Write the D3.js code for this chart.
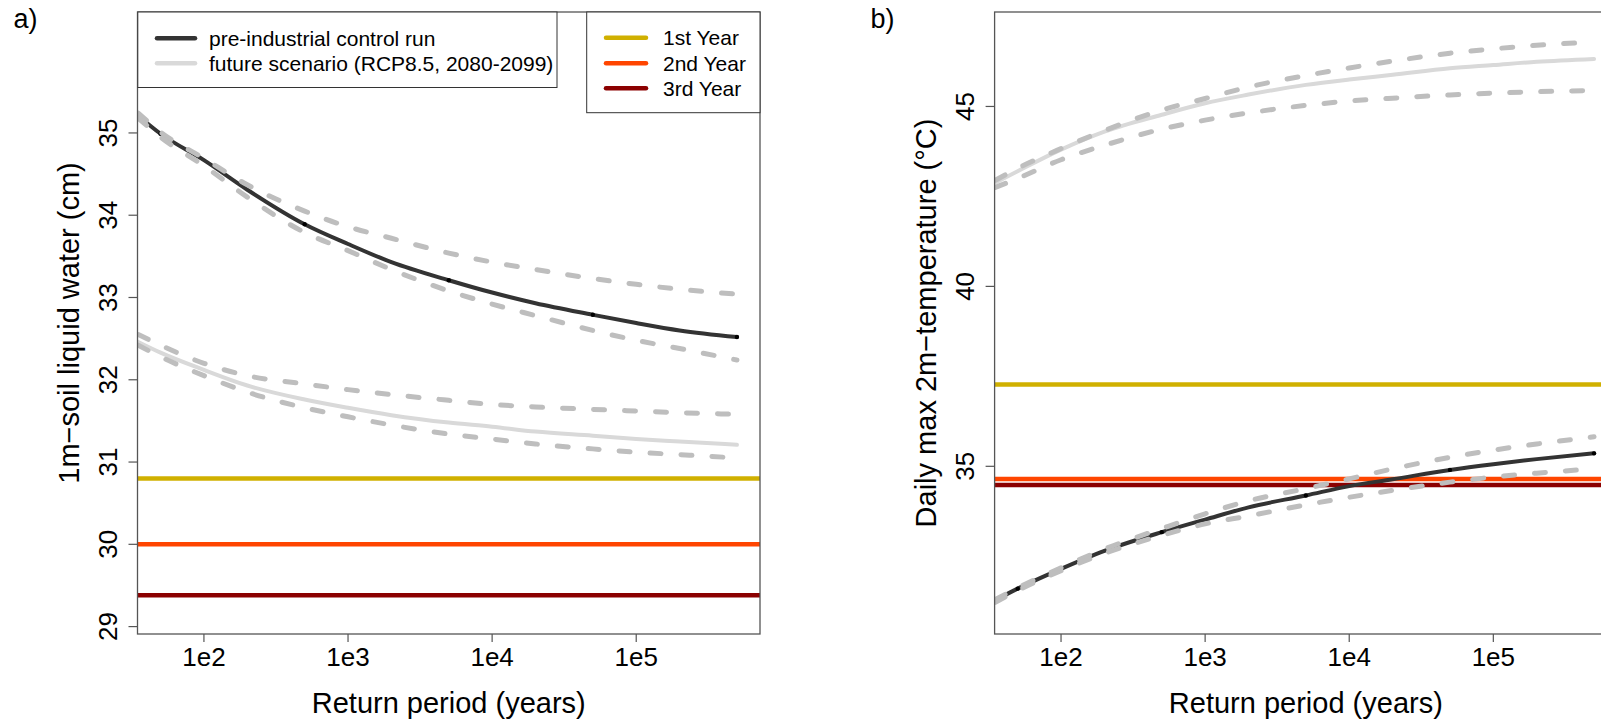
<!DOCTYPE html>
<html>
<head>
<meta charset="utf-8">
<script src="https://cdn.jsdelivr.net/npm/d3@7"></script>
<style>
  body { margin: 0; background: #fff; }
  svg text { font-family: "Liberation Sans", Arial, sans-serif; fill: #000; }
</style>
</head>
<body>
<svg id="chart" width="1601" height="722"></svg>
<script>
// return periods (years) at which the curves were read
var returnPeriods = [35, 50, 100, 200, 500, 1000, 2000, 5000, 1e4, 2e4, 5e4, 1e5, 2e5, 5e5];
var xTicks = [1e2, 1e3, 1e4, 1e5];
var xTickLabels = ["1e2", "1e3", "1e4", "1e5"];

// a) soil water
var soilControl   = [35.21, 34.99, 34.67, 34.31, 33.89, 33.65, 33.43, 33.21, 33.06, 32.93, 32.79, 32.69, 32.60, 32.52];
var soilControlHi = [35.24, 35.01, 34.69, 34.37, 34.05, 33.86, 33.72, 33.54, 33.43, 33.34, 33.23, 33.16, 33.10, 33.04];
var soilControlLo = [35.18, 34.95, 34.60, 34.22, 33.79, 33.57, 33.34, 33.08, 32.92, 32.78, 32.60, 32.48, 32.38, 32.24];
var soilFuture    = [32.46, 32.33, 32.12, 31.93, 31.76, 31.66, 31.57, 31.48, 31.43, 31.37, 31.32, 31.28, 31.25, 31.21];
var soilFutureHi  = [32.55, 32.42, 32.20, 32.05, 31.95, 31.88, 31.82, 31.75, 31.70, 31.67, 31.64, 31.62, 31.60, 31.58];
var soilFutureLo  = [32.42, 32.28, 32.05, 31.85, 31.66, 31.55, 31.45, 31.34, 31.28, 31.22, 31.16, 31.12, 31.09, 31.05];
var soilYears = [30.8, 30.0, 29.38];
var soilTicks = [29, 30, 31, 32, 33, 34, 35];

// b) temperature
var tempControl   = [31.28, 31.60, 32.15, 32.65, 33.17, 33.52, 33.86, 34.19, 34.45, 34.64, 34.90, 35.06, 35.20, 35.36];
var tempControlHi = [31.30, 31.62, 32.18, 32.70, 33.27, 33.68, 34.04, 34.38, 34.65, 34.93, 35.25, 35.45, 35.62, 35.82];
var tempControlLo = [31.22, 31.55, 32.10, 32.58, 33.08, 33.40, 33.62, 33.93, 34.14, 34.33, 34.56, 34.70, 34.81, 34.93];
var tempFuture    = [42.88, 43.20, 43.80, 44.30, 44.77, 45.09, 45.33, 45.60, 45.75, 45.88, 46.06, 46.15, 46.24, 46.32];
var tempFutureHi  = [42.95, 43.28, 43.83, 44.33, 44.90, 45.22, 45.54, 45.86, 46.07, 46.26, 46.48, 46.60, 46.70, 46.79];
var tempFutureLo  = [42.75, 43.00, 43.52, 43.92, 44.37, 44.62, 44.82, 45.03, 45.15, 45.23, 45.32, 45.37, 45.41, 45.44];
var tempYears = [37.27, 34.65, 34.48];
var tempTicks = [35, 40, 45];

var yearNames = ["1st Year", "2nd Year", "3rd Year"];
var yearColors = ["#d0b000", "#ff4500", "#8b0000"];
var runNames = ["pre-industrial control run", "future scenario (RCP8.5, 2080-2099)"];
var runColors = ["#333333", "#d9d9d9"];

var svg = d3.select("#chart");

// same log x-range for both panels (R style, 4% padding on 50..5e5)
var lx0 = Math.log10(50), lx1 = Math.log10(5e5), pad = (lx1 - lx0) * 0.04;
var xDomain = [Math.pow(10, lx0 - pad), Math.pow(10, lx1 + pad)];
var plotTop = 12, plotBottom = 634, plotWidth = 622.5;

function panel(opt) {
    var x = d3.scaleLog().domain(xDomain).range([opt.left, opt.left + plotWidth]);
    var y = d3.scaleLinear().domain(opt.yDomain).range([plotBottom, plotTop]);
    var g = svg.append("g");

    var clipId = "clip" + opt.id;
    svg.append("defs").append("clipPath").attr("id", clipId)
        .append("rect")
        .attr("x", opt.left).attr("y", plotTop)
        .attr("width", plotWidth).attr("height", plotBottom - plotTop);

    var plot = g.append("g").attr("clip-path", "url(#" + clipId + ")");

    // horizontal year lines
    plot.selectAll(".year")
        .data(opt.years)
        .enter().append("line")
        .attr("x1", opt.left).attr("x2", opt.left + plotWidth)
        .attr("y1", function(d) { return y(d); })
        .attr("y2", function(d) { return y(d); })
        .attr("stroke", function(d, i) { return yearColors[i]; })
        .attr("stroke-width", 4.5);

    var line = d3.line()
        .x(function(d) { return x(d[0]); })
        .y(function(d) { return y(d[1]); })
        .curve(d3.curveMonotoneX);

    function pairs(vals) { return returnPeriods.map(function(p, i) { return [p, vals[i]]; }); }

    // solid curves
    [opt.control, opt.future].forEach(function(vals, i) {
        plot.append("path")
            .attr("d", line(pairs(vals)))
            .attr("fill", "none")
            .attr("stroke", runColors[i])
            .attr("stroke-width", 4)
            .attr("stroke-linecap", "round");
    });

    // small dots at 5*10^k on the control curve
    plot.selectAll(".dot")
        .data(pairs(opt.control).filter(function(d) { return String(d[0])[0] === "5"; }))
        .enter().append("circle")
        .attr("cx", function(d) { return x(d[0]); })
        .attr("cy", function(d) { return y(d[1]); })
        .attr("r", 2.2)
        .attr("fill", "#000");

    // dashed confidence bands
    opt.bands.forEach(function(vals) {
        plot.append("path")
            .attr("d", line(pairs(vals)))
            .attr("fill", "none")
            .attr("stroke", "#bebebe")
            .attr("stroke-width", 5)
            .attr("stroke-dasharray", "11,20")
            .attr("stroke-linecap", "round");
    });

    // frame
    g.append("rect")
        .attr("x", opt.left).attr("y", plotTop)
        .attr("width", plotWidth).attr("height", plotBottom - plotTop)
        .attr("fill", "none")
        .attr("stroke", "#555")
        .attr("stroke-width", 1.3);

    // x axis
    g.selectAll(".xt")
        .data(xTicks)
        .enter().append("line")
        .attr("x1", function(d) { return x(d); }).attr("x2", function(d) { return x(d); })
        .attr("y1", plotBottom).attr("y2", plotBottom + 8)
        .attr("stroke", "#555").attr("stroke-width", 1.2);
    g.selectAll(".xl")
        .data(xTicks)
        .enter().append("text")
        .attr("x", function(d) { return x(d); })
        .attr("y", 666)
        .attr("text-anchor", "middle")
        .style("font-size", "26px")
        .text(function(d, i) { return xTickLabels[i]; });
    g.append("text")
        .attr("x", opt.left + plotWidth / 2)
        .attr("y", 713)
        .attr("text-anchor", "middle")
        .style("font-size", "29px")
        .text("Return period (years)");

    // y axis
    g.selectAll(".yt")
        .data(opt.yTicks)
        .enter().append("line")
        .attr("x1", opt.left - 9).attr("x2", opt.left)
        .attr("y1", function(d) { return y(d); }).attr("y2", function(d) { return y(d); })
        .attr("stroke", "#555").attr("stroke-width", 1.2);
    g.selectAll(".yl")
        .data(opt.yTicks)
        .enter().append("text")
        .attr("transform", function(d) { return "translate(" + (opt.left - 21) + "," + y(d) + ") rotate(-90)"; })
        .attr("text-anchor", "middle")
        .style("font-size", "26px")
        .text(function(d) { return d; });
    g.append("text")
        .attr("transform", "translate(" + (opt.left - 59) + "," + ((plotTop + plotBottom) / 2) + ") rotate(-90)")
        .attr("text-anchor", "middle")
        .style("font-size", "29px")
        .text(opt.yLabel);

    // panel letter
    g.append("text")
        .attr("x", opt.left - 124).attr("y", 28)
        .style("font-size", "27px")
        .text(opt.letter);

    return { x: x, y: y, g: g };
}

var a = panel({
    id: "a", left: 137.5, letter: "a)",
    yDomain: [28.91, 36.47], yTicks: soilTicks,
    yLabel: "1m\u2212soil liquid water (cm)",
    years: soilYears,
    control: soilControl, future: soilFuture,
    bands: [soilControlHi, soilControlLo, soilFutureHi, soilFutureLo]
});

var b = panel({
    id: "b", left: 994.6, letter: "b)",
    yDomain: [30.34, 47.625], yTicks: tempTicks,
    yLabel: "Daily max 2m\u2212temperature (\u00b0C)",
    years: tempYears,
    control: tempControl, future: tempFuture,
    bands: [tempControlHi, tempControlLo, tempFutureHi, tempFutureLo]
});

// legends (only in panel a)
function legend(x0, y0, w, h, names, colors, lineX, textX, rowY) {
    var lg = svg.append("g");
    lg.append("rect")
        .attr("x", x0).attr("y", y0).attr("width", w).attr("height", h)
        .attr("fill", "#fff").attr("stroke", "#333").attr("stroke-width", 1);
    lg.selectAll("line")
        .data(names)
        .enter().append("line")
        .attr("x1", lineX[0]).attr("x2", lineX[1])
        .attr("y1", function(d, i) { return rowY[i]; })
        .attr("y2", function(d, i) { return rowY[i]; })
        .attr("stroke", function(d, i) { return colors[i]; })
        .attr("stroke-width", 4.5)
        .attr("stroke-linecap", "round");
    lg.selectAll("text")
        .data(names)
        .enter().append("text")
        .attr("x", textX)
        .attr("y", function(d, i) { return rowY[i]; })
        .attr("dy", "0.35em")
        .style("font-size", "21px")
        .text(function(d) { return d; });
}

legend(137.8, 12, 419.2, 75.5, runNames, runColors, [157, 195], 209, [38.3, 63.3]);
legend(586.7, 12, 173.3, 100.7, yearNames, yearColors, [606, 646], 663, [37.7, 63.3, 88.3]);
</script>
</body>
</html>
